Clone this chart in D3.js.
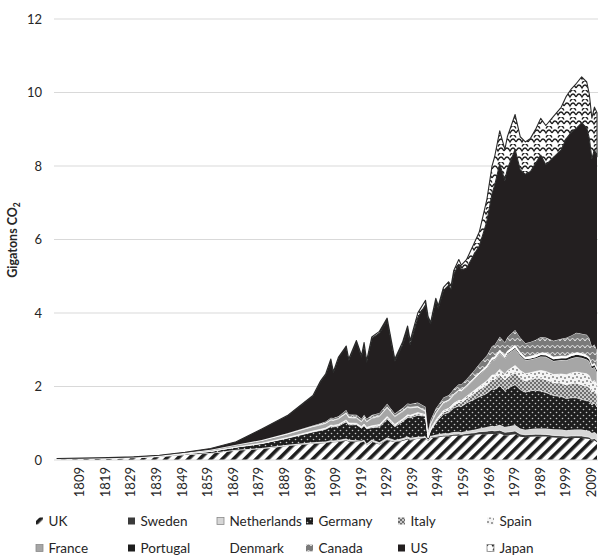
<!DOCTYPE html>
<html>
<head>
<meta charset="utf-8">
<script src="https://cdn.jsdelivr.net/npm/d3@7"></script>
<style>
  html, body { margin: 0; padding: 0; background: #fff; }
  svg { display: block; }
  text { font-family: Lato, "Open Sans", sans-serif; fill: #262626; }
</style>
</head>
<body>
<svg id="chart" width="598" height="555"></svg>
<script>
// Emissions in gigatons of CO2 per year, by country
const years = [1800,1810,1820,1830,1840,1850,1860,1870,1880,1890,1900,1903,1905,1907,1908,1910,1913,1914,1917,1919,1920,1921,1923,1926,1929,1932,1935,1937,1938,1941,1944,1945,1946,1948,1949,1951,1953,1954,1955,1957,1958,1960,1963,1965,1968,1970,1971,1973,1975,1976,1979,1981,1983,1985,1987,1989,1991,1994,1997,1999,2001,2003,2005,2007,2008,2009,2010,2011];

const uk = [0.03,0.035,0.045,0.06,0.09,0.14,0.18,0.26,0.3,0.38,0.44,0.45,0.46,0.49,0.48,0.49,0.53,0.5,0.5,0.48,0.5,0.4,0.5,0.42,0.54,0.48,0.52,0.56,0.53,0.58,0.6,0.52,0.6,0.61,0.62,0.64,0.64,0.65,0.66,0.66,0.65,0.67,0.68,0.7,0.7,0.71,0.7,0.72,0.67,0.67,0.7,0.63,0.62,0.63,0.64,0.64,0.64,0.61,0.6,0.59,0.6,0.6,0.6,0.58,0.57,0.52,0.53,0.48];
const sweden = [0.001,0.001,0.001,0.001,0.002,0.003,0.005,0.007,0.01,0.013,0.016,0.017,0.018,0.02,0.02,0.02,0.022,0.02,0.015,0.016,0.018,0.014,0.02,0.02,0.024,0.022,0.026,0.03,0.03,0.015,0.015,0.016,0.02,0.03,0.03,0.035,0.036,0.04,0.042,0.045,0.045,0.05,0.06,0.07,0.085,0.095,0.09,0.09,0.085,0.09,0.09,0.075,0.065,0.065,0.063,0.058,0.057,0.06,0.058,0.056,0.056,0.057,0.054,0.052,0.05,0.048,0.053,0.05];
const netherlands = [0.002,0.002,0.002,0.003,0.004,0.006,0.008,0.012,0.016,0.02,0.025,0.027,0.028,0.03,0.03,0.032,0.035,0.033,0.025,0.03,0.035,0.034,0.038,0.04,0.045,0.042,0.045,0.048,0.047,0.04,0.025,0.015,0.03,0.045,0.048,0.052,0.055,0.058,0.06,0.063,0.062,0.07,0.08,0.09,0.11,0.125,0.13,0.15,0.14,0.15,0.16,0.15,0.14,0.15,0.155,0.158,0.16,0.165,0.17,0.165,0.17,0.175,0.175,0.172,0.174,0.17,0.18,0.17];
const germany = [0.002,0.003,0.004,0.006,0.01,0.02,0.04,0.07,0.12,0.18,0.28,0.31,0.33,0.37,0.37,0.38,0.45,0.4,0.42,0.34,0.38,0.4,0.32,0.42,0.5,0.36,0.45,0.52,0.54,0.58,0.55,0.05,0.15,0.32,0.4,0.52,0.56,0.6,0.65,0.7,0.7,0.76,0.83,0.86,0.92,1.0,1.0,1.06,0.99,1.04,1.1,1.06,1.02,1.04,1.04,1.02,0.98,0.92,0.9,0.86,0.87,0.86,0.82,0.81,0.81,0.76,0.79,0.74];
const italy = [0,0,0,0,0.001,0.001,0.002,0.004,0.006,0.01,0.016,0.018,0.02,0.024,0.026,0.03,0.036,0.034,0.02,0.022,0.025,0.02,0.03,0.04,0.045,0.035,0.045,0.05,0.05,0.05,0.015,0.01,0.02,0.04,0.045,0.06,0.07,0.075,0.08,0.1,0.105,0.12,0.17,0.2,0.24,0.26,0.27,0.3,0.29,0.31,0.33,0.32,0.31,0.31,0.33,0.35,0.35,0.35,0.37,0.38,0.39,0.4,0.4,0.4,0.39,0.35,0.35,0.34];
const spain = [0.001,0.001,0.001,0.001,0.001,0.001,0.002,0.003,0.005,0.008,0.012,0.013,0.014,0.015,0.015,0.016,0.018,0.018,0.018,0.02,0.022,0.02,0.022,0.025,0.03,0.028,0.028,0.02,0.02,0.025,0.03,0.03,0.033,0.035,0.036,0.04,0.045,0.048,0.05,0.055,0.057,0.06,0.07,0.08,0.1,0.12,0.125,0.145,0.16,0.17,0.19,0.2,0.19,0.18,0.18,0.21,0.22,0.22,0.24,0.27,0.28,0.3,0.32,0.33,0.3,0.27,0.26,0.26];
const france = [0.003,0.004,0.005,0.007,0.01,0.02,0.04,0.055,0.075,0.095,0.12,0.12,0.13,0.14,0.14,0.15,0.18,0.15,0.14,0.13,0.16,0.15,0.2,0.22,0.24,0.21,0.2,0.2,0.2,0.15,0.08,0.05,0.12,0.18,0.18,0.2,0.2,0.21,0.22,0.25,0.25,0.26,0.3,0.32,0.35,0.4,0.41,0.45,0.42,0.45,0.46,0.41,0.37,0.36,0.36,0.38,0.4,0.37,0.38,0.39,0.4,0.41,0.41,0.39,0.39,0.37,0.37,0.35];
const portugal = [0.0005,0.0005,0.0005,0.0005,0.0005,0.001,0.001,0.001,0.001,0.001,0.002,0.002,0.002,0.002,0.002,0.003,0.003,0.003,0.003,0.003,0.003,0.003,0.003,0.004,0.004,0.004,0.004,0.004,0.004,0.004,0.004,0.004,0.005,0.005,0.005,0.006,0.006,0.007,0.008,0.009,0.009,0.01,0.011,0.012,0.014,0.015,0.017,0.02,0.022,0.023,0.025,0.026,0.027,0.027,0.03,0.04,0.045,0.048,0.05,0.06,0.062,0.062,0.066,0.06,0.058,0.056,0.052,0.05];
const denmark = [0.0005,0.0005,0.0005,0.0005,0.0005,0.001,0.001,0.002,0.003,0.004,0.006,0.006,0.007,0.007,0.007,0.008,0.009,0.009,0.009,0.01,0.01,0.01,0.01,0.011,0.012,0.012,0.014,0.015,0.015,0.01,0.008,0.008,0.01,0.015,0.015,0.017,0.018,0.019,0.02,0.022,0.025,0.03,0.035,0.04,0.05,0.06,0.06,0.06,0.055,0.06,0.065,0.055,0.052,0.06,0.058,0.05,0.06,0.06,0.06,0.055,0.053,0.057,0.05,0.052,0.048,0.046,0.047,0.042];
const canada = [0.0005,0.0005,0.0005,0.0005,0.0005,0.001,0.002,0.004,0.008,0.014,0.025,0.035,0.04,0.05,0.052,0.06,0.08,0.07,0.08,0.07,0.08,0.07,0.08,0.08,0.09,0.07,0.08,0.09,0.085,0.11,0.12,0.1,0.11,0.12,0.12,0.13,0.13,0.13,0.14,0.16,0.16,0.17,0.2,0.24,0.28,0.32,0.33,0.36,0.37,0.38,0.42,0.41,0.38,0.39,0.41,0.44,0.42,0.44,0.47,0.5,0.51,0.54,0.54,0.56,0.53,0.5,0.51,0.5];
const us = [0.002,0.003,0.004,0.006,0.01,0.015,0.03,0.08,0.3,0.48,0.8,1.14,1.28,1.58,1.24,1.59,1.71,1.48,1.98,1.68,1.92,1.54,2.08,2.17,2.27,1.43,1.71,2.01,1.62,2.31,2.78,3.05,2.61,2.94,2.63,2.91,2.99,2.81,3.12,3.26,3.11,3.02,3.16,3.21,3.65,4.15,4.34,4.7,4.4,4.58,4.91,4.56,4.6,4.64,4.81,4.95,4.7,4.99,5.14,5.42,5.53,5.57,5.74,5.63,5.43,5.11,5.31,5.27];
const japan = [0,0,0,0,0,0,0,0,0.001,0.004,0.012,0.015,0.018,0.02,0.022,0.025,0.03,0.03,0.04,0.045,0.045,0.04,0.045,0.05,0.06,0.055,0.08,0.1,0.11,0.13,0.12,0.05,0.04,0.06,0.07,0.09,0.1,0.1,0.1,0.13,0.13,0.23,0.3,0.38,0.6,0.75,0.78,0.9,0.85,0.88,0.95,0.9,0.88,0.9,0.92,1.0,1.07,1.12,1.16,1.15,1.18,1.22,1.25,1.25,1.2,1.1,1.15,1.2];

const countries = ["UK","Sweden","Netherlands","Germany","Italy","Spain","France","Portugal","Denmark","Canada","US","Japan"];
const seriesValues = [uk, sweden, netherlands, germany, italy, spain, france, portugal, denmark, canada, us, japan];

const yTicks = [0, 2, 4, 6, 8, 10, 12];
const xTickLabels = [1809,1819,1829,1839,1849,1859,1869,1879,1889,1899,1909,1919,1929,1939,1949,1959,1969,1979,1989,1999,2009];

// Table for d3.stack
const rows = years.map((yr, i) => {
  const r = { year: yr };
  countries.forEach((c, k) => { r[c] = seriesValues[k][i]; });
  return r;
});

const svg = d3.select("#chart");
const defs = svg.append("defs");

// ---- fill patterns ----
// diagonal hatch
const hatch = defs.append("pattern").attr("id", "p-UK")
  .attr("patternUnits", "userSpaceOnUse").attr("width", 8).attr("height", 8)
  .attr("patternTransform", "rotate(45)");
hatch.append("rect").attr("width", 8).attr("height", 8).attr("fill", "#fff");
hatch.append("rect").attr("x", 0).attr("width", 3.6).attr("height", 8).attr("fill", "#1e1e1e");

// black with light dots
const dots = defs.append("pattern").attr("id", "p-Germany")
  .attr("patternUnits", "userSpaceOnUse").attr("width", 6).attr("height", 6);
dots.append("rect").attr("width", 6).attr("height", 6).attr("fill", "#1e1e1e");
dots.append("circle").attr("cx", 1.5).attr("cy", 1.5).attr("r", 0.8).attr("fill", "#c8c8c8");
dots.append("circle").attr("cx", 4.5).attr("cy", 4.5).attr("r", 0.8).attr("fill", "#c8c8c8");

// grey checker
const check = defs.append("pattern").attr("id", "p-Italy")
  .attr("patternUnits", "userSpaceOnUse").attr("width", 4).attr("height", 4);
check.append("rect").attr("width", 4).attr("height", 4).attr("fill", "#c9c9c9");
check.append("rect").attr("width", 2).attr("height", 2).attr("fill", "#6e6e6e");
check.append("rect").attr("x", 2).attr("y", 2).attr("width", 2).attr("height", 2).attr("fill", "#6e6e6e");

// white with scattered dark dots
const confetti = defs.append("pattern").attr("id", "p-Spain")
  .attr("patternUnits", "userSpaceOnUse").attr("width", 8).attr("height", 8);
confetti.append("rect").attr("width", 8).attr("height", 8).attr("fill", "#f4f4f4");
[[1,1],[5,2],[3,5],[7,6]].forEach(([cx, cy]) =>
  confetti.append("circle").attr("cx", cx).attr("cy", cy).attr("r", 0.8).attr("fill", "#333"));

// grey with white scallops
const scallopG = defs.append("pattern").attr("id", "p-Canada")
  .attr("patternUnits", "userSpaceOnUse").attr("width", 10).attr("height", 7);
scallopG.append("rect").attr("width", 10).attr("height", 7).attr("fill", "#7a7a7a");
scallopG.append("path").attr("d", "M0,5 Q2.5,0 5,5 Q7.5,0 10,5")
  .attr("fill", "none").attr("stroke", "#f0f0f0").attr("stroke-width", 0.9);

// white with black scallops
const scallopW = defs.append("pattern").attr("id", "p-Japan")
  .attr("patternUnits", "userSpaceOnUse").attr("width", 12).attr("height", 9);
scallopW.append("rect").attr("width", 12).attr("height", 9).attr("fill", "#fff");
scallopW.append("path").attr("d", "M0,7 Q3,1 6,7 Q9,1 12,7 M-6,2.5 Q-3,-3.5 0,2.5 M6,2.5 Q9,-3.5 12,2.5 M0,2.5 L0,2.5")
  .attr("fill", "none").attr("stroke", "#1e1e1e").attr("stroke-width", 1.3);

const fills = {
  UK: "url(#p-UK)",
  Sweden: "#3a3a3a",
  Netherlands: "#d6d6d6",
  Germany: "url(#p-Germany)",
  Italy: "url(#p-Italy)",
  Spain: "url(#p-Spain)",
  France: "#a6a6a6",
  Portugal: "#1e1e1e",
  Denmark: "#ffffff",
  Canada: "url(#p-Canada)",
  US: "#231f20",
  Japan: "url(#p-Japan)"
};
const strokes = {
  UK: "none", Sweden: "none", Netherlands: "#eeeeee", Germany: "none", Italy: "#e8e8e8",
  Spain: "#ffffff", France: "#ffffff", Portugal: "none", Denmark: "none", Canada: "#ffffff",
  US: "none", Japan: "#2a2a2a"
};

// ---- scales ----
const x = d3.scaleLinear().domain([1800, 2011]).range([57, 597]);
const y = d3.scaleLinear().domain([0, 12]).range([460, 19]);

// gridlines and y labels
const grid = svg.append("g");
yTicks.forEach(v => {
  if (v > 0) {
    grid.append("line").attr("x1", 54).attr("x2", 598)
      .attr("y1", y(v)).attr("y2", y(v))
      .attr("stroke", "#d9d9d9").attr("stroke-width", 1);
  }
});
const yAxis = d3.axisLeft(y).tickValues(yTicks).tickSize(0).tickPadding(0).tickFormat(d3.format("d"));
const yg = svg.append("g").attr("transform", "translate(42,0)").call(yAxis);
yg.select(".domain").remove();
yg.selectAll("text").attr("font-size", 13).attr("font-family", "Lato, sans-serif").attr("fill", "#333");

// y title
const yt = svg.append("text").attr("transform", "translate(17,240) rotate(-90)")
  .attr("text-anchor", "middle").attr("font-size", 12.5).attr("font-weight", "bold");
yt.append("tspan").text("Gigatons CO");
yt.append("tspan").attr("font-size", 8.5).attr("dy", 3).text("2");

// ---- stacked areas ----
const stacked = d3.stack().keys(countries)(rows);
const area = d3.area()
  .x(d => x(d.data.year))
  .y0(d => y(d[0]))
  .y1(d => y(d[1]));

svg.append("g").selectAll("path").data(stacked).join("path")
  .attr("d", area)
  .attr("fill", d => fills[d.key])
  .attr("stroke", d => strokes[d.key])
  .attr("stroke-width", d => d.key === "Japan" ? 1.1 : 0.7)
  .attr("stroke-linejoin", "round");

// baseline
svg.append("line").attr("x1", 54).attr("x2", 598).attr("y1", y(0)).attr("y2", y(0))
  .attr("stroke", "#d9d9d9").attr("stroke-width", 1);

// x labels (rotated)
const xAxis = d3.axisBottom(x).tickValues(xTickLabels).tickSize(0).tickPadding(0).tickFormat(d3.format("d"));
const xg = svg.append("g").attr("transform", "translate(0,467)").call(xAxis);
xg.select(".domain").remove();
xg.selectAll("text")
  .attr("font-size", 13).attr("font-family", "Lato, sans-serif").attr("fill", "#333")
  .attr("text-anchor", "end")
  .attr("transform", "rotate(-90)")
  .attr("x", 0).attr("y", 0).attr("dy", "0.28em");

// ---- legend ----
const legendCols = [36, 128, 217, 306, 398, 487];
const legendRows = [521, 548];
const legend = svg.append("g");
countries.forEach((c, i) => {
  const col = i % 6, row = Math.floor(i / 6);
  const lx = legendCols[col], ly = legendRows[row];
  const g = legend.append("g").attr("transform", `translate(${lx},${ly})`);
  if (c !== "Denmark") {
    g.append("rect").attr("x", 0).attr("y", -3.5).attr("width", 7).attr("height", 7)
      .attr("fill", fills[c])
      .attr("stroke", (c === "Netherlands" || c === "France" || c === "Japan") ? "#8a8a8a" : "none")
      .attr("stroke-width", 0.8);
  }
  g.append("text").attr("x", 12.5).attr("y", 0).attr("dy", "0.36em")
    .attr("font-size", 13.5).attr("fill", "#262626").text(c);
});
</script>
</body>
</html>
